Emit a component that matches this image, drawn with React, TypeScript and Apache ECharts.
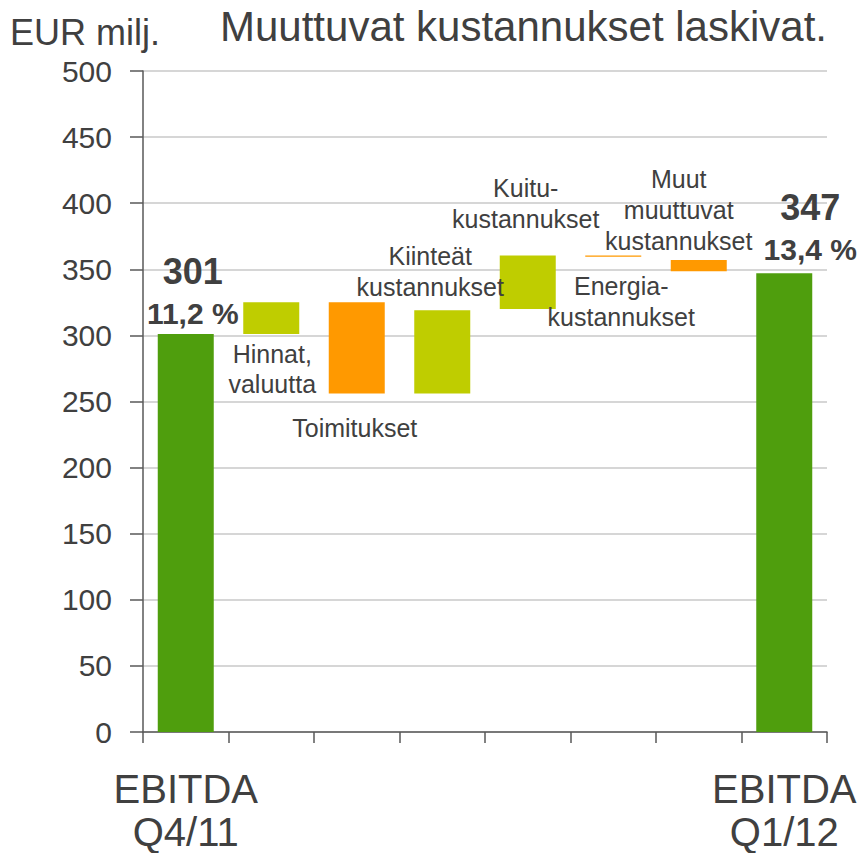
import React, { useEffect, useRef } from "react";
import * as echarts from "echarts";

// ---- data ----
const categories = [
  "EBITDA Q4/11",
  "Hinnat, valuutta",
  "Toimitukset",
  "Kiinteät kustannukset",
  "Kuitu-kustannukset",
  "Energia-kustannukset",
  "Muut muuttuvat kustannukset",
  "EBITDA Q1/12",
];
const axisLabels = ["EBITDA\nQ4/11", "", "", "", "", "", "", "EBITDA\nQ1/12"];
const barLabels = [
  "",
  "Hinnat,\nvaluutta",
  "Toimitukset",
  "Kiinteät\nkustannukset",
  "Kuitu-\nkustannukset",
  "Energia-\nkustannukset",
  "Muut\nmuuttuvat\nkustannukset",
  "",
];
const barStart = [0, 301, 325, 256, 320, 360.5, 357, 0];
const barEnd = [301, 325, 256, 319, 360.5, 359.5, 348.5, 347];
const ebitdaMargin = ["11,2 %", "", "", "", "", "", "", "13,4 %"];
const yTicks = { min: 0, max: 500, interval: 50 };

const DARK_GREEN = "#4f9e0d";
const LIGHT_GREEN = "#bfcd00";
const ORANGE = "#ff9900";
const TEXT = "#404040";
const FONT = "'Liberation Sans', Arial, sans-serif";

export default function App() {
  const ref = useRef<HTMLDivElement>(null);

  useEffect(() => {
    if (!ref.current) return;
    const chart = echarts.init(ref.current, null, { renderer: "svg" });
    const last = categories.length - 1;

    const baseData = barStart.map((s, i) => Math.min(s, barEnd[i]));
    // label placement per bar: [position, distance, dx, lineHeight]
    const place: Array<[string, number, number, number]> = [
      ["top", 5, 7, 30],
      ["bottom", 5, 1, 30],
      ["bottom", 19, -2, 30],
      ["top", 8, -12, 31],
      ["top", 21, -2, 31],
      ["bottom", 14, 8, 31],
      ["top", 4, -20, 31],
      ["top", 8, 26, 30],
    ];

    const visData = barStart.map((s, i) => {
      const e = barEnd[i];
      const isTotal = i === 0 || i === last;
      const color = isTotal ? DARK_GREEN : e >= s ? LIGHT_GREEN : ORANGE;
      const [pos, dist, dx, lh] = place[i];
      const label: any = isTotal
        ? {
            show: true,
            position: pos,
            distance: dist,
            offset: [dx, 0],
            formatter: `{a|${e}}\n{b|${ebitdaMargin[i]}}`,
            rich: {
              a: { fontSize: 36, fontWeight: "bold", color: TEXT, lineHeight: 52, fontFamily: FONT, align: "center" },
              b: { fontSize: 30, fontWeight: "bold", color: TEXT, lineHeight: 32, fontFamily: FONT, align: "center" },
            },
          }
        : {
            show: true,
            position: pos,
            distance: dist,
            offset: [dx, 0],
            formatter: barLabels[i],
            fontSize: 25,
            lineHeight: lh,
            color: TEXT,
            fontFamily: FONT,
            align: "center",
          };
      return {
        value: Math.abs(e - s),
        itemStyle: { color },
        label,
      };
    });

    chart.setOption({
      animation: false,
      textStyle: { fontFamily: FONT },
      title: [
        {
          text: "Muuttuvat kustannukset laskivat.",
          left: 220,
          top: 5,
          padding: 0,
          textStyle: { fontSize: 42, fontWeight: "normal", color: TEXT, fontFamily: FONT },
        },
        {
          text: "EUR milj.",
          left: 10,
          top: 14,
          padding: 0,
          textStyle: { fontSize: 36, fontWeight: "normal", color: TEXT, fontFamily: FONT },
        },
      ],
      grid: { left: 143, right: 36, top: 71, bottom: 112, containLabel: false },
      xAxis: {
        type: "category",
        data: categories,
        axisLine: { show: true, lineStyle: { color: "#595959", width: 1.5 } },
        axisTick: { show: true, alignWithLabel: false, interval: 0, length: 11, lineStyle: { color: "#595959", width: 1.5 } },
        axisLabel: {
          interval: 0,
          formatter: (_v: string, idx: number) => axisLabels[idx],
          fontSize: 40,
          lineHeight: 43,
          color: TEXT,
          margin: 35,
          fontFamily: FONT,
        },
        splitLine: { show: false },
      },
      yAxis: {
        type: "value",
        min: yTicks.min,
        max: yTicks.max,
        interval: yTicks.interval,
        axisLine: { show: true, lineStyle: { color: "#595959", width: 1.5 } },
        axisTick: { show: true, inside: false, length: 13, lineStyle: { color: "#595959", width: 1.5 } },
        axisLabel: { fontSize: 30, color: TEXT, margin: 31, fontFamily: FONT },
        splitLine: { show: true, lineStyle: { color: "#c8c8c8", width: 1.5 } },
      },
      series: [
        {
          type: "bar",
          stack: "wf",
          data: baseData,
          barWidth: 56,
          silent: true,
          itemStyle: { color: "rgba(0,0,0,0)" },
          emphasis: { disabled: true },
        },
        {
          type: "bar",
          stack: "wf",
          data: visData,
          barWidth: 56,
          emphasis: { disabled: true },
        },
      ],
    });

    return () => chart.dispose();
  }, []);

  return (
    <div
      ref={ref}
      style={{ position: "absolute", left: 0, top: 0, width: 863, height: 853 }}
    />
  );
}
